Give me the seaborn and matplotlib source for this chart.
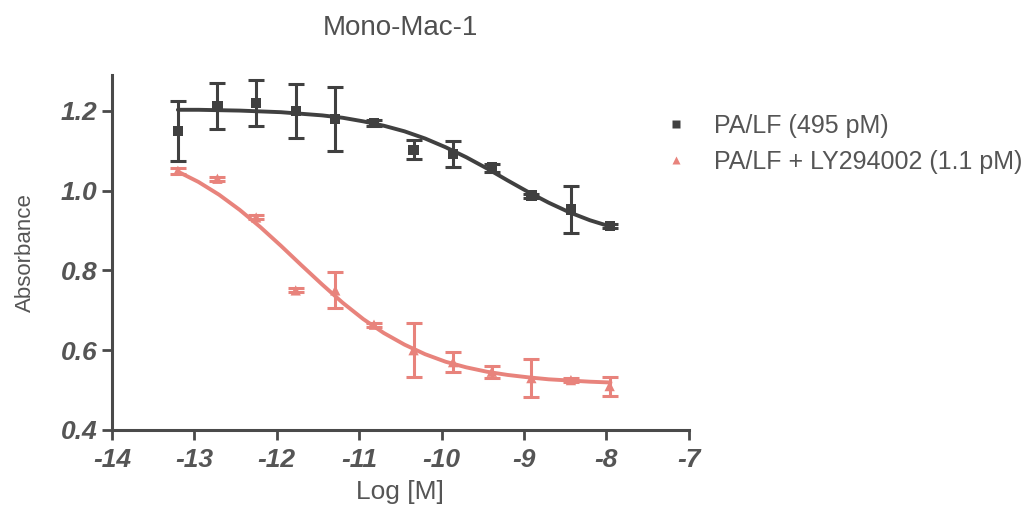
import numpy as np
import pandas as pd
import matplotlib
matplotlib.use("Agg")
import matplotlib.pyplot as plt
import seaborn as sns

# ---- data ----
log_conc = [-13.2, -12.72, -12.25, -11.77, -11.29, -10.82, -10.34, -9.86, -9.39, -8.91, -8.43, -7.96]

pa_lf_mean = [1.15, 1.213, 1.22, 1.20, 1.18, 1.17, 1.103, 1.092, 1.058, 0.988, 0.953, 0.912]
pa_lf_err = [0.075, 0.057, 0.058, 0.068, 0.08, 0.008, 0.023, 0.033, 0.01, 0.005, 0.058, 0.005]

pa_lf_ly_mean = [1.05, 1.03, 0.933, 0.75, 0.75, 0.664, 0.60, 0.57, 0.546, 0.53, 0.525, 0.51]
pa_lf_ly_err = [0.008, 0.005, 0.005, 0.005, 0.045, 0.005, 0.067, 0.025, 0.015, 0.047, 0.005, 0.024]

# fitted curves
curve_x = [-13.2, -12.95, -12.7, -12.45, -12.2, -11.95, -11.7, -11.45, -11.2, -10.95, -10.7,
           -10.45, -10.2, -9.95, -9.7, -9.45, -9.2, -8.95, -8.7, -8.45, -8.2, -7.95]
curve_pa_lf = [1.203, 1.203, 1.202, 1.201, 1.199, 1.197, 1.193, 1.189, 1.183, 1.174, 1.163,
               1.149, 1.131, 1.109, 1.084, 1.056, 1.026, 0.997, 0.970, 0.946, 0.926, 0.910]
curve_pa_lf_ly = [1.048, 1.022, 0.990, 0.952, 0.909, 0.862, 0.813, 0.765, 0.719, 0.678, 0.643,
                  0.614, 0.590, 0.571, 0.557, 0.546, 0.538, 0.532, 0.527, 0.524, 0.521, 0.519]

labels = ["PA/LF (495 pM)", "PA/LF + LY294002 (1.1 pM)"]
title = "Mono-Mac-1"
x_ticks = [-14, -13, -12, -11, -10, -9, -8, -7]
y_ticks = [0.4, 0.6, 0.8, 1.0, 1.2]

# ---- styling ----
sns.set_theme(style="ticks")
plt.rcParams["font.family"] = ["Liberation Sans", "DejaVu Sans"]

dark = "#404040"
red = "#e8837c"
axis_col = "#4a4a4a"
text_col = "#555555"

fig = plt.figure(figsize=(10.30, 5.18), dpi=100)
ax = fig.add_axes([0.1087, 0.170, 0.560, 0.685])

pts = pd.DataFrame({
    "x": log_conc * 2,
    "y": pa_lf_mean + pa_lf_ly_mean,
    "series": [labels[0]] * len(log_conc) + [labels[1]] * len(log_conc),
})
curves = pd.DataFrame({
    "x": curve_x * 2,
    "y": curve_pa_lf + curve_pa_lf_ly,
    "series": [labels[0]] * len(curve_x) + [labels[1]] * len(curve_x),
})
palette = {labels[0]: dark, labels[1]: red}

sns.lineplot(data=curves, x="x", y="y", hue="series", palette=palette,
             linewidth=2.8, legend=False, ax=ax, sort=True)

ax.errorbar(log_conc, pa_lf_mean, yerr=pa_lf_err, fmt="none", ecolor=dark,
            elinewidth=2.2, capsize=5.5, capthick=2.2, zorder=3)
ax.errorbar(log_conc, pa_lf_ly_mean, yerr=pa_lf_ly_err, fmt="none", ecolor=red,
            elinewidth=2.2, capsize=5.5, capthick=2.2, zorder=3)

sns.scatterplot(data=pts, x="x", y="y", hue="series", style="series",
                markers={labels[0]: "s", labels[1]: "^"}, palette=palette,
                s=55, edgecolor="none", ax=ax, zorder=4)

ax.set_xlim(-14, -7)
ax.set_ylim(0.4, 1.29)
ax.set_xticks(x_ticks)
ax.set_xticklabels([str(t) for t in x_ticks])
ax.set_yticks(y_ticks)
ax.set_yticklabels([f"{t:.1f}" for t in y_ticks])

for sp in ["top", "right"]:
    ax.spines[sp].set_visible(False)
for sp in ["left", "bottom"]:
    ax.spines[sp].set_color(axis_col)
    ax.spines[sp].set_linewidth(2.2)
ax.tick_params(axis="both", colors=axis_col, width=2.0, length=7, direction="out")
ax.tick_params(axis="x", pad=6)
for lab in ax.get_xticklabels() + ax.get_yticklabels():
    lab.set_fontsize(19)
    lab.set_fontweight("bold")
    lab.set_fontstyle("italic")
    lab.set_color(text_col)

ax.set_xlabel("Log [M]", fontsize=19, color=text_col, labelpad=6)
ax.set_ylabel("Absorbance", fontsize=16, color=text_col, labelpad=18)
ax.set_title(title, fontsize=20, color="#505050", pad=29)

handles, lbls = ax.get_legend_handles_labels()
leg = ax.legend(handles=handles, labels=lbls, loc="upper left",
                bbox_to_anchor=(0.895, 0.955), frameon=False, fontsize=18,
                handletextpad=0.55, labelspacing=0.5, markerscale=0.75)
for t in leg.get_texts():
    t.set_color(text_col)

fig.savefig("out.png", dpi=100)
